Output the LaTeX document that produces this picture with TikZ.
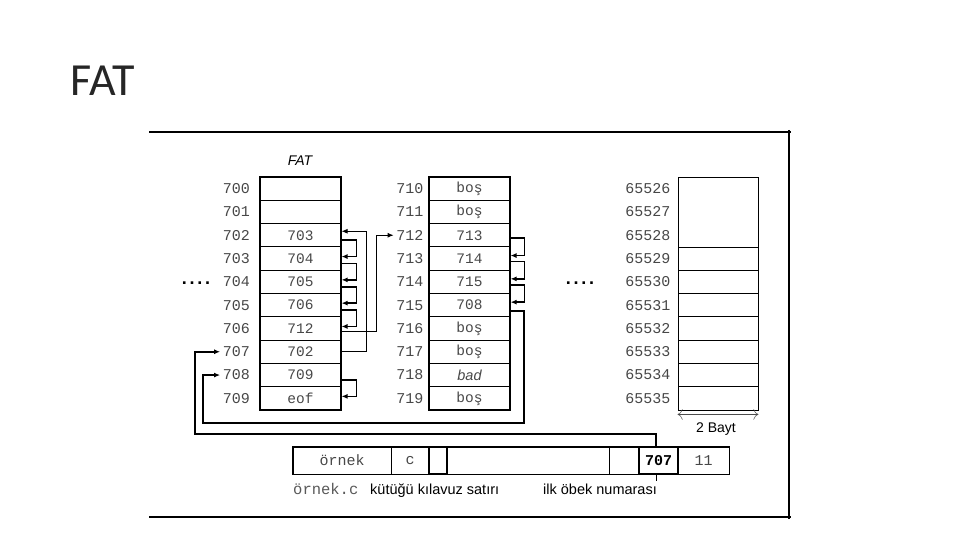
\documentclass[tikz,border=0pt]{standalone}
\usepackage{fontspec}
\setmainfont{Liberation Sans}
\newfontfamily\monof{Liberation Mono}
\newfontfamily\titlef{Carlito}
\newfontfamily\dotf[LetterSpace=15]{Liberation Sans}
\usetikzlibrary{arrows.meta}
\begin{document}
\begin{tikzpicture}[x=1pt,y=-1pt,
  cell/.style={draw, line width=1.1pt, minimum width=81pt, minimum height=23.3pt, inner sep=0pt,
    font=\monof\fontsize{14.5}{16}\selectfont, text=black!72},
  cellc/.style={draw, line width=0.8pt, minimum width=80pt, minimum height=23.3pt, inner sep=0pt},
  lbl/.style={anchor=east, inner sep=2.5pt, font=\monof\fontsize{15}{16}\selectfont, text=black!72},
  dcell/.style={draw, line width=1pt, minimum height=27pt, inner sep=0pt,
    font=\monof\fontsize{15}{16}\selectfont, text=black!72},
  chain/.style={line width=1.6pt, -{Latex[length=6pt,width=5pt]}},
  link/.style={line width=1pt, -{Latex[length=6pt,width=5pt]}},
  longlink/.style={line width=1.6pt, -{Latex[length=6pt,width=5pt]}},
  note/.style={anchor=base west, inner sep=0pt, font=\fontsize{14.5}{16}\selectfont},
  dots/.style={inner sep=0pt, font=\dotf\bfseries\fontsize{18}{20}\selectfont}
]
\useasboundingbox (0,0) rectangle (960,540);

% title
\node[anchor=base west, inner sep=0pt, font=\titlef\fontsize{46}{50}\selectfont, text=black!85] (title) at (70.5,96) {FAT};

% frame
\draw[line width=1.3pt] (149,132) -- (791,132);
\draw[line width=1.1pt] (789,130) -- (789,519);
\draw[line width=1.3pt] (149,517) -- (791,517);

% FAT label
\node[inner sep=0pt, font=\itshape\fontsize{14}{16}\selectfont] (fatlbl) at (300,161) {FAT};

% column 1
\foreach \i/\v in {0/{},1/{},2/703,3/704,4/705,5/706,6/712,7/702,8/709,9/eof}
  \node[cell] (a\i) at (300.5,{188.65+23.3*\i}) {\v};
\foreach \i in {0,...,9}
  \node[lbl] (la\i) at (252.5,{188.65+23.3*\i}) {70\i};
\draw[line width=1.8pt] (a0.north west) rectangle (a9.south east);

% column 2
\foreach \i/\v in {0/boş,1/boş,2/713,3/714,4/715,5/708,6/boş,7/boş,8/{\rmfamily\itshape bad},9/boş}
  \node[cell] (b\i) at (469.5,{188.65+23.3*\i}) {\v};
\foreach \i in {0,...,9}
  \node[lbl] (lb\i) at (426,{188.65+23.3*\i}) {71\i};
\draw[line width=1.8pt] (b0.north west) rectangle (b9.south east);

% column 3
\node[cellc, minimum height=69.9pt] (c0) at (718,211.95) {};
\foreach \i in {1,...,7}
  \node[cellc] (c\i) at (718,{188.65+23.3*(\i+2)}) {};
\foreach \i/\t in {0/65526,1/65527,2/65528,3/65529,4/65530,5/65531,6/65532,7/65533,8/65534,9/65535}
  \node[lbl] (lc\i) at (673,{188.65+23.3*\i}) {\t};

% 2 Bayt
\draw[{To[length=5pt]}-{To[length=5pt]}, line width=0.5pt, black!70] ([yshift=-4pt]c7.south west) -- ([yshift=-4pt]c7.south east);
\node[inner sep=0pt, font=\fontsize{14}{16}\selectfont] (bayt) at (716,429) {2 Bayt};

% dots
\node[dots] (dl) at (196,283.5) {....};
\node[dots] (dr) at (580,283.5) {....};

% chains in column 1
\foreach \s/\t in {2/3,3/4,4/5,5/6,8/9}
  \draw[chain] ([yshift=-5pt]a\s.east) -- ++(15,0) |- ([yshift=2pt]a\t.east);
% chains in column 2
\foreach \s/\t in {2/3,3/4,4/5}
  \draw[chain] ([yshift=-3pt]b\s.east) -- ++(14,0) |- ([yshift=3pt]b\t.east);

% 707 -> 702
\draw[link] (a7.east) -- ++(25,0) |- ([yshift=4pt]a2.east);
% 706 -> 712
\draw[link] ([yshift=-3pt]a6.east) -- ++(35,0) |- (lb2.west);

% directory entry
\node[dcell, minimum width=98pt] (d0) at (342,460.5) {örnek};
\node[dcell, minimum width=38pt] (d1) at (410,460.5) {c};
\node[dcell, minimum width=18pt, line width=1.8pt] (d2) at (438,460.5) {};
\node[dcell, minimum width=162pt] (d3) at (528,460.5) {};
\node[dcell, minimum width=30pt] (d4) at (624,460.5) {};
\node[dcell, minimum width=39pt, line width=1.8pt, font=\monof\bfseries\fontsize{15}{16}\selectfont, text=black] (d5) at (658.5,460.5) {707};
\node[dcell, minimum width=51pt] (d6) at (703.5,460.5) {11};
\draw[line width=1.8pt] (d0.north west) rectangle (d6.south east);

% 715 -> 708
\coordinate (r1) at (524,423);
\coordinate (r2) at (203,423);
\draw[longlink] ([yshift=-6pt]b5.east) -| (r1) -- (r2) |- (la8.west);
% directory 707 -> 707
\coordinate (q1) at (195,434);
\draw[longlink] ([xshift=-2.5pt]d5.north) |- (q1) |- (la7.west);
\draw[line width=0.8pt] ([xshift=-2.5pt]d5.south) -- ++(0,6);

% notes under the entry
\node[note, font=\monof\fontsize{15.5}{16}\selectfont, text=black!65] (n1) at (293,494) {örnek.c};
\node[note] (n2) at (370,494) {kütüğü kılavuz satırı};
\node[note] (n3) at (543,494) {ilk öbek numarası};
\end{tikzpicture}
\end{document}
